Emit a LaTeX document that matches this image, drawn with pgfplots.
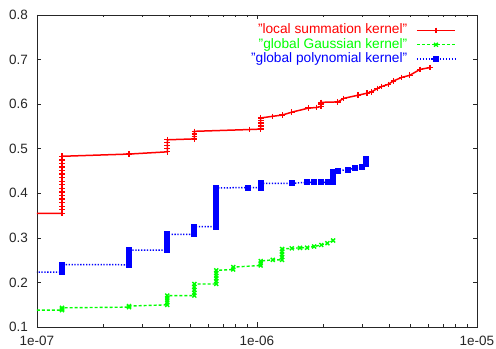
\documentclass[border=0pt]{standalone}
\usepackage{fontspec}
\setmainfont{Liberation Sans}
\usepackage{pgfplots}
\pgfplotsset{compat=1.18}
\definecolor{gpred}{RGB}{255,0,0}
\definecolor{gpgreen}{RGB}{0,255,0}
\definecolor{gpblue}{RGB}{0,0,255}
\begin{document}
\begin{tikzpicture}
\begin{semilogxaxis}[
  name=ax,
  width=440pt, height=312pt, scale only axis,
  xmin=1e-7, xmax=1e-5, ymin=0.1, ymax=0.8,
  xtick={1e-7,1e-6,1e-5},
  xticklabels={1e-07,1e-06,1e-05},
  ytick={0.1,0.2,0.3,0.4,0.5,0.6,0.7,0.8},
  yticklabels={0.1,0.2,0.3,0.4,0.5,0.6,0.7,0.8},
  /pgf/number format/assume math mode=true,
  tick align=inside,
  major tick length=4.5pt, minor tick length=2.5pt,
  axis line style={black!85, line width=0.8pt},
  every tick/.style={black!85, line width=0.6pt},
  tick label style={font=\fontsize{13.5}{15}\selectfont, black!85},
  yticklabel style={inner sep=0pt, xshift=-9pt},
  xticklabel style={inner sep=0pt, yshift=-9pt},
  legend plot pos=right,
  legend cell align=right,
  legend image code/.code={\draw[mark repeat=2,mark phase=2,#1] plot coordinates {(0pt,0pt) (19pt,0pt) (38pt,0pt)};},
  legend style={draw=none, fill=none, anchor=north east, at={(axis description cs:0.959,0.980)},
    font=\fontsize{13.7}{15}\selectfont, column sep=9pt, row sep=0pt,
    nodes={inner sep=0pt, text height=10.5pt, text depth=3.7pt}},
]
\addplot[gpred, line width=1.5pt, mark=+, mark size=2.8pt, mark options={solid, line width=1.3pt}] coordinates {
(9e-8,0.355) (1.30e-7,0.355) (1.30e-7,0.363) (1.30e-7,0.371) (1.30e-7,0.379) (1.30e-7,0.387)
(1.30e-7,0.395) (1.30e-7,0.403) (1.30e-7,0.411) (1.30e-7,0.419) (1.30e-7,0.427) (1.30e-7,0.435)
(1.30e-7,0.443) (1.30e-7,0.451) (1.30e-7,0.459) (1.30e-7,0.467) (1.30e-7,0.475) (1.30e-7,0.483)
(2.62e-7,0.488)
(3.91e-7,0.493) (3.91e-7,0.500) (3.91e-7,0.507) (3.91e-7,0.514) (3.91e-7,0.520)
(5.19e-7,0.522) (5.19e-7,0.527) (5.19e-7,0.533) (5.19e-7,0.539)
(9.22e-7,0.543)
(1.04e-6,0.544) (1.04e-6,0.551) (1.04e-6,0.558) (1.04e-6,0.564) (1.04e-6,0.569)
(1.174e-6,0.5726) (1.303e-6,0.5755) (1.44e-6,0.582) (1.71e-6,0.591) (1.866e-6,0.5925)
(1.954e-6,0.595) (1.954e-6,0.600) (1.954e-6,0.604) (2.33e-6,0.605) (2.48e-6,0.613)
(2.88e-6,0.620) (3.16e-6,0.6245) (3.32e-6,0.6275) (3.52e-6,0.635) (3.69e-6,0.6395)
(3.95e-6,0.6445) (4.17e-6,0.652) (4.55e-6,0.660) (4.95e-6,0.6647) (5.51e-6,0.678) (6.11e-6,0.682)
};
\addlegendentry{\textcolor{gpred}{"local summation kernel"}}
\addplot[gpgreen, line width=1.4pt, dash pattern=on 3pt off 2pt, mark=x, mark size=2.8pt, mark options={solid, line width=1.4pt}] coordinates {
(9e-8,0.1379) (1.30e-7,0.1379) (1.30e-7,0.1405) (1.30e-7,0.143)
(2.62e-7,0.1446) (2.62e-7,0.147)
(3.91e-7,0.1497) (3.91e-7,0.155) (3.91e-7,0.160) (3.91e-7,0.165) (3.91e-7,0.1705)
(5.19e-7,0.1705) (5.19e-7,0.177) (5.19e-7,0.183) (5.19e-7,0.190) (5.19e-7,0.1965)
(6.53e-7,0.1965) (6.53e-7,0.203) (6.53e-7,0.209) (6.53e-7,0.215) (6.53e-7,0.221) (6.53e-7,0.227)
(7.80e-7,0.229) (7.80e-7,0.2344)
(1.04e-6,0.238) (1.04e-6,0.243) (1.04e-6,0.248)
(1.18e-6,0.2507)
(1.30e-6,0.2507) (1.30e-6,0.257) (1.30e-6,0.263) (1.30e-6,0.269) (1.30e-6,0.275)
(1.44e-6,0.2765) (1.57e-6,0.2775) (1.69e-6,0.278) (1.82e-6,0.2806) (1.96e-6,0.284) (2.09e-6,0.288) (2.22e-6,0.294)
};
\addlegendentry{\textcolor{gpgreen}{"global Gaussian kernel"}}
\addplot[gpblue, line width=1.5pt, dash pattern=on 1.3pt off 1.6pt, mark=square*, mark size=2.3pt, mark options={solid}] coordinates {
(9e-8,0.223) (1.30e-7,0.223) (1.30e-7,0.229) (1.30e-7,0.235) (1.30e-7,0.240)
(2.62e-7,0.2396) (2.62e-7,0.245) (2.62e-7,0.250) (2.62e-7,0.255) (2.62e-7,0.260) (2.62e-7,0.266) (2.62e-7,0.2723)
(3.91e-7,0.2723) (3.91e-7,0.278) (3.91e-7,0.284) (3.91e-7,0.290) (3.91e-7,0.296) (3.91e-7,0.302) (3.91e-7,0.308)
(5.19e-7,0.308) (5.19e-7,0.314) (5.19e-7,0.320) (5.19e-7,0.325)
(6.53e-7,0.325) (6.53e-7,0.333) (6.53e-7,0.341) (6.53e-7,0.349) (6.53e-7,0.357) (6.53e-7,0.365)
(6.53e-7,0.373) (6.53e-7,0.381) (6.53e-7,0.389) (6.53e-7,0.397) (6.53e-7,0.405) (6.53e-7,0.412)
(9.13e-7,0.4128)
(1.04e-6,0.413) (1.04e-6,0.418) (1.04e-6,0.4224)
(1.44e-6,0.4224)
(1.69e-6,0.4246) (1.82e-6,0.4246) (1.96e-6,0.4246) (2.10e-6,0.4246)
(2.21e-6,0.4246) (2.21e-6,0.430) (2.21e-6,0.436) (2.21e-6,0.442) (2.21e-6,0.4478)
(2.34e-6,0.4507) (2.60e-6,0.453) (2.79e-6,0.4567) (2.99e-6,0.459)
(3.13e-6,0.465) (3.13e-6,0.471) (3.13e-6,0.4774)
};
\addlegendentry{\textcolor{gpblue}{"global polynomial kernel"}}
\end{semilogxaxis}
\path ([shift={(-37pt,-22pt)}]ax.south west) rectangle ([shift={(19pt,15pt)}]ax.north east);
\end{tikzpicture}
\end{document}
